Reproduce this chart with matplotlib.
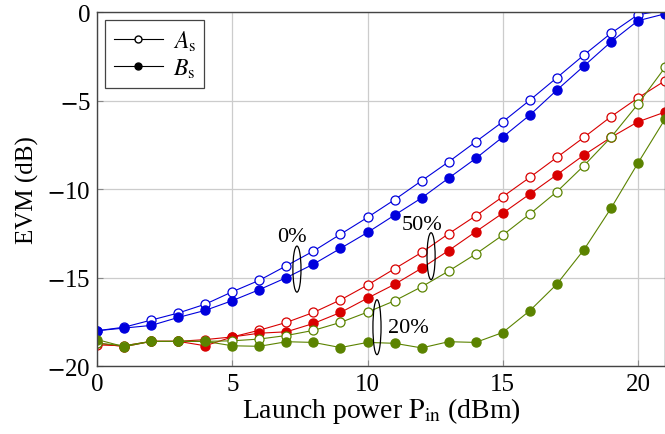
"""EVM versus launch power for A_s / B_s at three ratios."""

import matplotlib

matplotlib.use("Agg")

import matplotlib.pyplot as plt
from matplotlib.patches import Ellipse
from matplotlib.ticker import FuncFormatter

plt.rcParams["font.family"] = ["Liberation Serif", "DejaVu Serif"]
plt.rcParams["mathtext.fontset"] = "stix"

power_dbm = list(range(22))

# 0 %
blue_as = [-18.0, -17.8, -17.4, -17.0, -16.5, -15.8, -15.15, -14.33, -13.5, -12.55,
           -11.6, -10.6, -9.53, -8.46, -7.33, -6.2, -4.98, -3.71, -2.43, -1.2, -0.15, 0.1]
blue_bs = [-18.0, -17.85, -17.7, -17.25, -16.85, -16.3, -15.68, -15.0, -14.24, -13.35,
           -12.45, -11.47, -10.5, -9.38, -8.27, -7.06, -5.82, -4.41, -3.05, -1.69, -0.49, -0.1]
# 50 %
red_as = [-18.8, -18.85, -18.6, -18.6, -18.5, -18.35, -17.97, -17.53, -16.97, -16.26,
          -15.42, -14.5, -13.58, -12.52, -11.51, -10.43, -9.34, -8.21, -7.08, -5.91, -4.85, -3.88]
red_bs = [-18.7, -18.9, -18.6, -18.6, -18.85, -18.35, -18.14, -18.06, -17.59, -16.97,
          -16.16, -15.38, -14.47, -13.47, -12.41, -11.36, -10.28, -9.19, -8.08, -7.08, -6.2, -5.65]
# 20 %
green_as = [-18.7, -18.85, -18.6, -18.6, -18.6, -18.57, -18.47, -18.27, -17.98, -17.53,
            -16.95, -16.31, -15.52, -14.63, -13.67, -12.6, -11.41, -10.15, -8.68, -7.08, -5.2, -3.13]
green_bs = [-18.5, -18.9, -18.6, -18.6, -18.6, -18.85, -18.88, -18.62, -18.66, -18.95,
            -18.66, -18.71, -18.97, -18.62, -18.66, -18.1, -16.87, -15.37, -13.43, -11.09, -8.53, -6.05]

series = [
    (blue_as, blue_bs, "#0000dd"),
    (red_as, red_bs, "#d80000"),
    (green_as, green_bs, "#5b8300"),
]

# (label, text x, text y, ellipse x, ellipse y, ellipse height)
group_marks = [
    ("0%", 7.21, -12.66, 7.39, -14.52, 2.6),
    ("50%", 12.02, -11.98, 12.35, -13.79, 2.65),
    ("20%", 11.5, -17.8, 10.35, -17.8, 3.1),
]


def _tick_fmt(val, _pos):
    # long TeX-like minus sign
    if val < 0:
        return r"$-$" + f"{abs(val):g}"
    return f"{val:g}"


fig = plt.figure(figsize=(6.65, 4.35), dpi=100)
ax = fig.add_axes([0.146, 0.156, 0.854, 0.814])

for vals_as, vals_bs, color in series:
    ax.plot(power_dbm, vals_as, color=color, lw=0.8, marker="o", ms=6.5,
            mfc="white", mec=color, mew=0.9, clip_on=True)
    ax.plot(power_dbm, vals_bs, color=color, lw=0.8, marker="o", ms=6.5,
            mfc=color, mec=color, clip_on=True)

# legend proxies
ax.plot([], [], color="black", lw=0.8, marker="o", ms=5, mfc="white", mec="black",
        label=r"$A_\mathrm{s}$")
ax.plot([], [], color="black", lw=0.8, marker="o", ms=5, mfc="black", mec="black",
        label=r"$B_\mathrm{s}$")
handles, labels = ax.get_legend_handles_labels()
leg = ax.legend(handles[-2:], labels[-2:], loc="upper left", fontsize=17,
                fancybox=False, edgecolor="#444444", framealpha=1,
                borderaxespad=0.35, handlelength=2.1, labelspacing=0.15,
                borderpad=0.35, handletextpad=0.4)
leg.get_frame().set_linewidth(0.9)

for text, tx, ty, ex, ey, eh in group_marks:
    ax.add_patch(Ellipse((ex, ey), 0.3, eh, fill=False, ec="black", lw=0.9, zorder=5))
    ax.text(tx, ty, text, fontsize=16, ha="center", va="center")

ax.set_xlim(0, 21)
ax.set_ylim(-20, 0)
ax.set_xticks([0, 5, 10, 15, 20])
ax.set_yticks([-20, -15, -10, -5, 0])
ax.yaxis.set_major_formatter(FuncFormatter(_tick_fmt))
ax.grid(True, color="#cccccc", lw=0.9)
ax.set_axisbelow(True)
ax.tick_params(direction="in", labelsize=18, length=4, color="#888888", pad=5)
for side in ax.spines.values():
    side.set_color("#444444")
    side.set_linewidth(1.0)

ax.set_xlabel(r"Launch power $\mathrm{P}_{\mathrm{in}}$ (dBm)", fontsize=20, labelpad=0)
ax.set_ylabel("EVM (dB)", fontsize=18, labelpad=6)

fig.savefig("out.png", dpi=100)
plt.close(fig)
